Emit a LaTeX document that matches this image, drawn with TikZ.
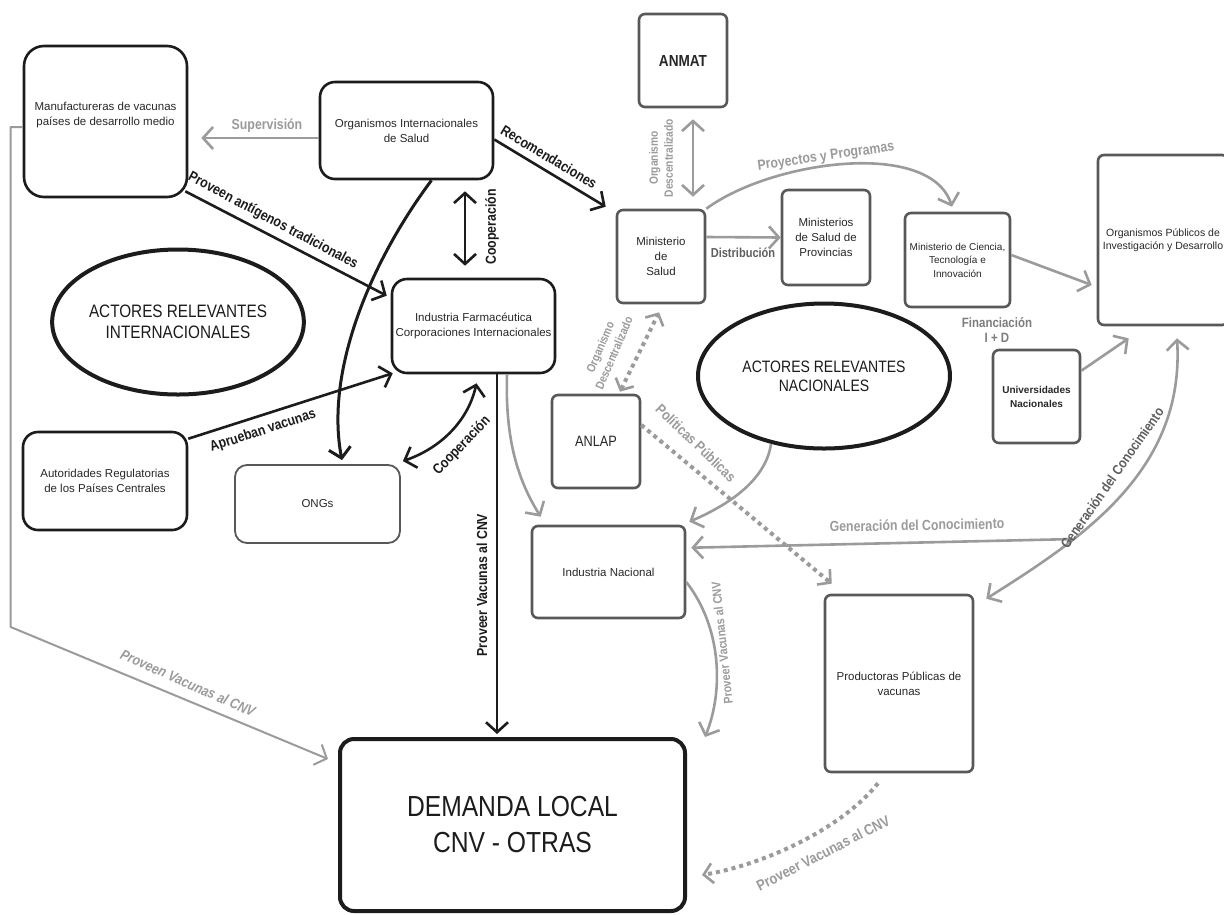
\documentclass[tikz,border=0pt]{standalone}
\usepackage{fontspec}
\setmainfont{Liberation Sans}
\newfontfamily\narrowfont{Liberation Sans}[FakeStretch=0.85]
\usetikzlibrary{arrows.meta,shapes.geometric}

\begin{document}
\begin{tikzpicture}[x=1pt,y=-1pt,line join=round,
  >={Straight Barb[length=10pt,width=22pt]},
  intBox/.style={draw=inkColor,line width=2.6pt,rounded corners=15pt,fill=fillColor,align=center,inner sep=2pt,text=textColor,font=\fontsize{11.5}{15}\selectfont},
  natBox/.style={intBox,draw=boxColor,rounded corners=6pt},
  actorShape/.style={ellipse,draw=inkColor,line width=4pt,inner sep=0pt,align=center,text=inkColor,minimum width=250pt,minimum height=145pt},
  inkLabel/.style={inner sep=0pt,outer sep=0pt,align=center,text=inkColor,font=\narrowfont\bfseries\fontsize{14.5}{16}\selectfont},
  grayLabel/.style={inkLabel,text=grayColor},
  inkArrow/.style={->,draw=inkColor,line width=2.6pt},
  grayArrow/.style={->,draw=grayColor,line width=2.6pt},
  dotArrow/.style={draw=grayColor,line width=4pt,dash pattern=on 4pt off 4pt,-{Straight Barb[length=9pt,width=20pt,line width=2.6pt]}},
  dotBoth/.style={dotArrow,{Straight Barb[length=9pt,width=20pt,line width=2.6pt]}-{Straight Barb[length=9pt,width=20pt,line width=2.6pt]}}]
\definecolor{fillColor}{RGB}{255,255,255}
\definecolor{inkColor}{RGB}{28,28,28}
\definecolor{textColor}{RGB}{40,40,40}
\definecolor{boxColor}{RGB}{88,88,88}
\definecolor{grayColor}{RGB}{155,155,155}
\definecolor{midGrayColor}{RGB}{125,125,125}
\definecolor{darkGrayColor}{RGB}{95,95,95}

\path[use as bounding box,fill=fillColor] (0,0) rectangle (1224,914);

\node[intBox,rounded corners=20pt,minimum width=163pt,minimum height=151pt,text depth=16pt] (manuf) at (105.5,121.5) {Manufactureras de vacunas\\países de desarrollo medio};
\node[intBox,minimum width=173pt,minimum height=97pt] (orgint) at (406.5,130.5) {Organismos Internacionales\\de Salud};
\node[intBox,minimum width=163pt,minimum height=94pt] (indfarm) at (473.5,326) {Industria Farmacéutica\\Corporaciones Internacionales};
\node[intBox,minimum width=164pt,minimum height=98pt] (autreg) at (105,481) {Autoridades Regulatorias\\de los Países Centrales};
\node[intBox,draw=boxColor,line width=1.8pt,rounded corners=12pt,minimum width=165pt,minimum height=78pt] (ongs) at (317.5,504) {ONGs};
\node[intBox,line width=4pt,rounded corners=14pt,minimum width=345pt,minimum height=172pt,text=inkColor,font=\narrowfont\fontsize{29}{36}\selectfont] (demanda) at (512.5,825) {DEMANDA LOCAL\\CNV - OTRAS};

\node[actorShape,font=\narrowfont\fontsize{18}{21}\selectfont] (actint) at (178,322) {ACTORES RELEVANTES\\INTERNACIONALES};
\node[actorShape,minimum width=252pt,font=\narrowfont\fontsize{16.5}{19}\selectfont] (actnac) at (824,376) {ACTORES RELEVANTES\\NACIONALES};

\node[natBox,minimum width=88pt,minimum height=93pt,font=\narrowfont\bfseries\fontsize{16}{18}\selectfont] (anmat) at (683,60.5) {ANMAT};
\node[natBox,minimum width=88pt,minimum height=93pt] (minsal) at (661,256.5) {Ministerio\\de\\Salud};
\node[natBox,minimum width=88pt,minimum height=95pt] (minprov) at (826,237.5) {Ministerios\\de Salud de\\Provincias};
\node[natBox,minimum width=105pt,minimum height=94pt,font=\fontsize{10}{13.5}\selectfont] (mincyt) at (957.5,260) {Ministerio de Ciencia,\\Tecnología e\\Innovación};
\node[natBox,minimum width=130pt,minimum height=170pt,font=\fontsize{10.5}{12.5}\selectfont] (orgpub) at (1163,240) {Organismos Públicos de\\Investigación y Desarrollo};
\node[natBox,minimum width=87pt,minimum height=93pt,font=\bfseries\fontsize{10}{14}\selectfont] (univ) at (1036.5,396.5) {Universidades\\Nacionales};
\node[natBox,minimum width=88pt,minimum height=93pt,font=\narrowfont\fontsize{15}{17}\selectfont] (anlap) at (596,441.5) {ANLAP};
\node[natBox,minimum width=153pt,minimum height=92pt] (indnac) at (608.5,572) {Industria Nacional};
\node[natBox,minimum width=148pt,minimum height=177pt] (prodpub) at (899,683.5) {Productoras Públicas de\\vacunas};

\draw[grayArrow] ([yshift=-7.5pt]orgint.west) -- ([xshift=13pt,yshift=-16.5pt]manuf.east);
\draw[inkArrow] ([yshift=-9pt]orgint.east) -- ([xshift=-10pt,yshift=2pt]minsal.north west);
\draw[inkArrow] ([xshift=-3pt,yshift=7pt]manuf.south east) -- ([xshift=-4pt,yshift=-18pt]indfarm.north west);
\draw[inkArrow,line width=3pt] ([xshift=25pt]orgint.south) .. controls +(-62,83) and +(-17,-88) .. ([xshift=24.5pt,yshift=4pt]ongs.north);
\draw[inkArrow,<->] ([xshift=58.5pt,yshift=-11pt]orgint.south) -- ([xshift=-8.5pt,yshift=12pt]indfarm.north);
\draw[inkArrow] ([yshift=-8pt]autreg.north east) -- ([xshift=2pt,yshift=1pt]indfarm.south west);
\draw[inkArrow,<->] ([xshift=3pt,yshift=-9pt]indfarm.south) .. controls +(-9,40) and +(35,-12) .. ([xshift=2pt,yshift=3pt]ongs.north east);
\draw[inkArrow] ([xshift=23.5pt]indfarm.south) -- ([xshift=-15.5pt,yshift=3pt]demanda.north);
\draw[grayArrow,line width=2pt] ([yshift=-5.5pt]manuf.west) -- ++(-12,0) -- ++(0,500) -- ([xshift=-10pt,yshift=-22pt]demanda.north west);
\draw[grayArrow] ([xshift=33.5pt]indfarm.south) .. controls +(-2,65) and +(-23,-37) .. ([xshift=10pt,yshift=8pt]indnac.north west);

\draw[grayArrow,<->] ([xshift=10pt,yshift=-11pt]anmat.south) -- ([xshift=32pt,yshift=12pt]minsal.north);
\draw[grayArrow] ([yshift=19.5pt]minsal.east) -- (minprov.west);
\draw[grayArrow] (minsal.north east) .. controls +(65,-48) and +(-22,-68) .. ([xshift=-5.5pt,yshift=5pt]mincyt.north);
\draw[grayArrow] ([yshift=5pt]mincyt.east) -- ([xshift=-5pt,yshift=-45pt]orgpub.west);
\draw[grayArrow] ([yshift=-22pt]univ.north east) -- ([xshift=32pt,yshift=-12pt]orgpub.south west);
\draw[grayArrow,<->] ([xshift=14pt,yshift=-12pt]orgpub.south) .. controls +(8,133) and +(95,-60) .. ([xshift=12pt,yshift=-5pt]prodpub.north east) coordinate[pos=0.69] (gc);
\draw[grayArrow] (gc) -- ([xshift=5pt,yshift=-23pt]indnac.north east);
\draw[grayArrow] (actnac.232) .. controls +(-5,35) and +(42,-18) .. ([xshift=3pt,yshift=3pt]indnac.north east);
\draw[dotArrow] ([yshift=16.5pt]anlap.east) -- ([xshift=8pt,yshift=10pt]prodpub.north west);
\draw[dotBoth] ([xshift=24pt,yshift=2pt]anlap.north) -- ([xshift=-2pt,yshift=-8pt]minsal.south);
\draw[grayArrow] ([yshift=-10pt]indnac.east) .. controls +(35,45) and +(19,-47) .. ([xshift=18pt]demanda.north east);
\draw[dotArrow] ([xshift=-21pt,yshift=-10pt]prodpub.south) .. controls +(-38,47) and +(60,-10) .. ([xshift=15pt,yshift=-50pt]demanda.east);

\node[grayLabel] (lsuperv) at (267,126) {Supervisión};
\node[inkLabel,rotate=-31] (lrecom) at (549,157) {Recomendaciones};
\node[inkLabel,rotate=-28] (lantig) at (273,221) {Proveen antígenos tradicionales};
\node[inkLabel,rotate=90] (lcoopv) at (492,227) {Cooperación};
\node[inkLabel,rotate=18] (laprueb) at (263,431) {Aprueban vacunas};
\node[inkLabel,rotate=46] (lcoopc) at (462,446) {Cooperación};
\node[inkLabel,rotate=90] (lprovv) at (482,585) {Proveer Vacunas al CNV};
\node[grayLabel,rotate=-24,font=\narrowfont\bfseries\itshape\fontsize{14.5}{16}\selectfont] (lprovm) at (188,683) {Proveen Vacunas al CNV};
\node[grayLabel,rotate=90,font=\narrowfont\bfseries\fontsize{12}{15}\selectfont] (ldesc1) at (661,158) {Organismo\\Descentralizado};
\node[grayLabel,text=darkGrayColor,font=\narrowfont\bfseries\fontsize{13}{15}\selectfont] (ldistr) at (743,253) {Distribución};
\node[grayLabel,rotate=8] (lproy) at (826,157) {Proyectos y Programas};
\node[grayLabel,text=midGrayColor,font=\narrowfont\bfseries\fontsize{13.5}{15}\selectfont] (lfinan) at (997,330) {Financiación\\I + D};
\node[grayLabel,rotate=1] (lgenh) at (917,525) {Generación del Conocimiento};
\node[inkLabel,text=darkGrayColor,rotate=55,font=\narrowfont\bfseries\fontsize{14}{16}\selectfont] (lgenc) at (1112,478) {Generación del Conocimiento};
\node[grayLabel,rotate=67,font=\narrowfont\bfseries\fontsize{12}{15}\selectfont] (ldesc2) at (607,350) {Organismo\\Descentralizado};
\node[grayLabel,rotate=-44] (lpolit) at (696,443) {Políticas Públicas};
\node[grayLabel,rotate=96,font=\narrowfont\bfseries\fontsize{12.5}{14}\selectfont] (lprovi) at (722,643) {Proveer Vacunas al CNV};
\node[grayLabel,rotate=27,font=\narrowfont\bfseries\fontsize{15}{17}\selectfont] (lprovp) at (823,853) {Proveer Vacunas al CNV};
\end{tikzpicture}
\end{document}
